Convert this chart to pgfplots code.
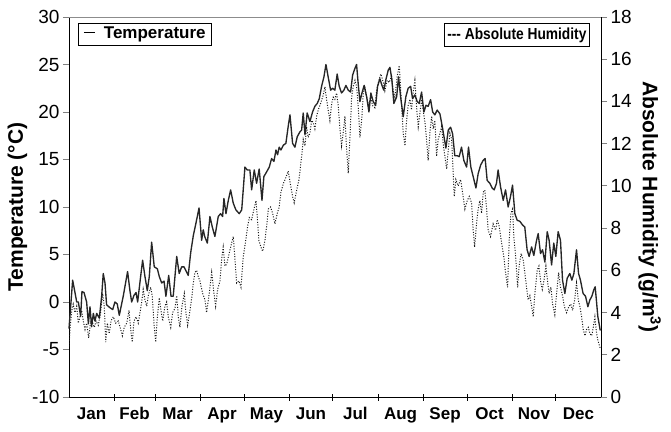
\documentclass[border=0pt]{standalone}
\usepackage{fontspec}
\setmainfont{Liberation Sans}
\usepackage{pgfplots}
\pgfplotsset{compat=1.18}

\begin{document}
\begin{tikzpicture}
\useasboundingbox (-69pt,-34pt) rectangle (602pt,397pt);
\begin{axis}[
  scale only axis, width=532pt, height=380pt,
  xmin=0, xmax=365, ymin=-10, ymax=30,
  axis x line*=bottom, axis y line*=left,
  axis line style={line width=1pt},
  clip=false,
  ytick={-10,-5,...,30},
  xtick={15.5,45,74.5,105,135.5,166,196.5,227.5,258,288.5,319,349.5},
  xticklabels={Jan,Feb,Mar,Apr,May,Jun,Jul,Aug,Sep,Oct,Nov,Dec},
  x tick style={draw=none},
  y tick style={line width=0.8pt},
  tick align=outside, major tick length=6pt,
  xticklabel style={font=\bfseries\fontsize{17}{17}\selectfont, yshift=-1pt},
  yticklabel style={font=\fontsize{19}{19}\selectfont},
  /pgf/number format/assume math mode=true,
  ylabel={Temperature (°C)},
  ylabel style={font=\bfseries\fontsize{21}{21}\selectfont, yshift=-2pt},
]
\addplot[line width=1.35pt, color=black!85, line join=round] table {
0 -2.8
2.5 2.3
4.1 1.0
5.3 0.0
6.4 0.0
8.0 -1.5
8.9 1.1
10.3 1.0
12.1 0.0
13.3 -2.3
14.4 -0.5
15.5 -2.6
16.7 -1.2
17.8 -2.0
19.0 -1.2
20.8 -1.7
22.4 0.6
23.5 3.0
24.7 2.0
25.8 -0.3
28.1 -0.6
30.0 -0.8
31.5 0.0
33.1 -0.2
34.5 -1.4
37.2 0.6
40.2 3.2
41.8 1.2
43.0 0.0
44.6 0.7
46.0 1.0
47.1 0.0
48.7 2.1
50.5 4.4
52.1 2.7
53.7 1.2
55.1 2.7
56.7 6.3
58.5 3.7
60.6 3.5
61.9 2.7
63.6 2.0
65.2 2.2
66.5 0.6
68.4 2.8
70.0 0.6
71.5 0.6
73.9 4.8
75.6 3.0
77.3 3.7
78.9 3.7
80.2 3.3
81.8 2.8
83.5 5.2
85.3 7.0
87.1 8.3
89.2 9.9
91.0 6.5
92.1 7.6
93.1 6.9
94.9 6.2
96.7 9.0
98.3 7.9
100.1 6.9
102.4 9.0
104.0 9.3
105.4 9.0
106.3 10.9
107.7 9.3
109.3 10.7
110.9 11.8
112.7 10.4
114.5 9.7
116.8 9.3
118.5 9.7
120.7 14.2
122.3 13.9
124.1 13.9
125.3 11.8
127.1 13.9
128.7 12.5
130.5 14.0
132.4 10.7
133.7 13.2
135.6 13.7
137.4 14.2
139.0 15.1
140.6 14.8
142.0 16.0
143.1 15.5
144.2 16.3
145.4 16.0
147.0 16.5
148.8 16.7
150.4 18.5
151.6 19.7
153.4 16.7
155.0 16.3
156.6 17.4
158.4 17.9
159.6 18.1
160.7 19.9
161.9 17.6
163.4 19.9
165.3 19.0
167.1 20.0
168.7 20.6
170.3 20.9
171.7 21.4
173.3 22.7
174.9 23.7
176.3 25.0
177.8 23.7
179.5 22.3
180.9 22.5
182.4 22.3
184.0 24.0
185.4 22.7
187.0 22.0
188.6 22.3
190.0 22.8
191.6 22.3
193.2 22.1
194.6 23.9
196.2 24.6
197.3 25.0
198.4 23.0
199.6 21.1
201.0 22.0
202.5 22.8
204.2 21.6
205.8 20.0
207.1 22.0
208.7 21.1
210.4 20.7
211.7 22.7
213.3 23.5
214.7 22.8
216.0 22.3
217.4 23.4
219.0 24.4
220.2 24.7
221.5 23.4
222.9 20.9
224.8 21.6
226.1 23.7
227.5 21.6
229.3 19.5
231.1 21.6
232.7 22.5
234.4 22.7
235.7 21.4
237.3 21.8
238.9 21.1
240.3 20.9
241.9 22.1
243.5 20.0
244.9 20.7
246.4 20.6
248.1 21.3
249.5 20.0
251.0 19.7
252.6 20.2
254.5 19.8
256.3 18.3
258.6 16.2
260.2 18.1
261.8 18.4
263.2 17.7
264.7 15.4
266.3 15.4
267.7 15.3
269.3 16.3
270.9 14.9
272.8 14.2
274.1 16.3
275.7 14.2
277.3 13.2
279.2 12.0
280.7 13.5
282.4 14.4
284.1 14.9
285.5 15.1
286.9 12.8
288.7 12.5
290.3 12.0
291.7 11.8
293.3 12.5
294.4 13.9
296.1 12.1
297.9 10.7
299.5 11.8
301.3 10.0
302.9 11.1
304.3 12.3
305.9 9.3
307.5 8.6
309.3 8.5
311.2 8.1
312.7 7.9
314.3 5.5
315.7 4.8
317.4 5.8
318.9 4.9
320.8 6.5
321.9 7.2
323.5 5.1
324.9 5.5
326.5 4.2
328.1 7.4
329.4 6.5
331.1 3.9
332.6 6.2
334.0 4.8
335.6 7.4
337.2 6.5
338.6 2.3
340.2 0.9
341.8 2.5
343.6 3.0
345.0 2.3
346.4 3.0
348.2 5.5
349.6 3.0
350.9 2.3
352.7 0.9
354.4 0.6
356.0 -0.5
357.3 0.2
358.7 0.6
360.1 1.3
361.0 1.6
362.0 -0.1
362.8 -1.5
364.5 -3.0
};
% month boundaries
\pgfplotsinvokeforeach{31,59,90,120,151,181,212,243,273,304,334}{
  \draw[line width=0.8pt] ([yshift=-3.5pt]axis cs:#1,-10) -- ([yshift=3.5pt]axis cs:#1,-10);
}
\draw[black!45, line width=0.8pt] (rel axis cs:0,1) -- (rel axis cs:1,1);
\node[draw, line width=0.8pt, anchor=north west, inner xsep=6pt, inner ysep=3.5pt,
  font=\bfseries\fontsize{17}{17}\selectfont] at (rel axis cs:0.016,0.984)
  {\rule[0.33em]{11pt}{0.8pt}\hspace{9pt}Temperature};
\node[draw, line width=0.8pt, anchor=north east, inner xsep=3pt, inner ysep=4pt,
  font=\bfseries\fontsize{16}{16}\selectfont] at (rel axis cs:0.979,0.984)
  {\scalebox{0.86}[1]{-{}-{}- Absolute Humidity}};
\end{axis}
\begin{axis}[
  scale only axis, width=532pt, height=380pt,
  xmin=0, xmax=365, ymin=0, ymax=18,
  axis x line=none, axis y line*=right,
  axis line style={line width=1pt},
  ytick={0,2,...,18},
  y tick style={line width=0.8pt},
  tick align=outside, major tick length=6pt,
  yticklabel style={font=\fontsize{19}{19}\selectfont},
  /pgf/number format/assume math mode=true,
  ylabel={Absolute Humidity (g/m\textsuperscript{3})},
  ylabel style={rotate=180, font=\bfseries\fontsize{21}{21}\selectfont},
]
\addplot[line width=1pt, black!90, dash pattern=on 1pt off 1.6pt] table {
0 2.4
0.7 3.2
1.9 4.1
2.9 4.4
4.1 4.0
5.3 4.3
6.4 3.5
7.5 3.8
8.7 4.1
9.8 3.6
11.0 3.2
12.1 3.5
13.5 2.8
14.9 3.6
16.3 3.5
17.4 3.3
18.5 3.6
20.1 3.4
21.7 4.0
23.1 4.9
24.2 4.3
25.2 2.6
26.3 3.5
27.6 3.0
28.8 3.6
30.4 3.8
32.0 3.5
33.8 3.6
35.5 3.2
36.6 2.9
37.9 3.3
39.6 3.5
41.2 4.1
42.5 3.1
43.4 2.6
44.6 3.6
46.0 3.8
47.5 3.5
48.7 4.0
49.9 4.5
50.9 5.1
52.1 4.6
53.3 4.3
54.4 4.8
56.0 5.2
57.1 4.8
58.3 3.5
59.5 2.6
60.6 3.8
61.9 4.7
63.1 4.1
64.3 3.6
65.8 4.3
67.0 4.5
68.1 3.8
69.8 3.3
71.1 4.0
72.7 4.2
73.9 4.8
75.0 3.8
76.1 3.3
77.5 4.3
79.1 4.9
80.2 4.0
81.4 3.4
83.0 4.1
84.2 4.7
85.3 5.4
86.4 5.9
87.6 6.0
88.7 5.7
89.8 5.5
91.7 4.9
93.3 4.6
94.4 4.0
96.2 4.9
97.9 5.9
99.5 4.9
100.6 4.3
102.0 5.1
103.6 5.5
104.7 6.5
105.8 7.1
107.0 6.2
108.2 6.3
109.9 6.8
111.6 7.3
112.7 7.6
113.9 6.5
115.0 5.4
116.6 5.5
118.0 5.2
119.5 6.6
121.2 7.4
122.6 8.1
123.7 8.5
125.3 8.4
126.9 8.9
128.3 9.3
129.2 8.5
130.3 7.4
131.7 7.1
132.9 6.9
134.4 7.4
135.6 8.1
136.7 8.9
138.3 9.0
139.7 8.7
141.3 8.2
142.9 8.7
144.2 9.0
145.4 9.7
147.0 10.1
148.8 10.4
150.4 10.7
152.1 10.0
153.4 9.5
154.5 9.2
156.2 9.8
157.8 10.3
159.6 11.4
160.7 12.2
161.9 11.9
163.0 12.8
164.1 12.3
165.3 12.5
166.5 13.1
167.6 13.0
168.7 12.7
169.9 13.3
171.0 13.6
172.6 13.9
174.4 14.3
175.6 14.7
176.7 14.1
177.8 13.6
179.0 13.1
180.2 13.9
181.3 14.2
182.4 14.1
183.6 14.4
184.7 13.8
185.9 12.7
187.0 11.9
188.1 12.5
189.3 13.3
190.5 11.7
191.6 10.6
192.7 12.2
193.9 14.2
195.0 14.7
196.2 15.0
197.3 14.7
198.4 13.8
199.6 12.3
200.8 13.1
201.9 14.4
203.0 14.7
204.2 14.2
205.6 13.8
206.9 14.2
208.3 13.8
209.9 13.7
211.0 14.5
212.6 15.0
214.0 15.3
215.6 14.9
216.7 14.5
218.3 15.0
219.7 14.9
221.3 15.2
222.4 14.5
223.6 14.2
225.2 15.2
226.6 15.7
228.2 13.8
229.3 12.5
230.5 11.9
231.6 13.1
232.7 13.8
233.9 14.1
235.0 13.6
236.1 14.4
237.3 15.0
238.4 13.8
239.6 12.8
240.7 13.4
241.9 14.1
243.0 13.6
244.2 13.0
245.3 12.2
246.4 11.2
247.6 12.5
248.8 13.3
249.9 12.7
251.0 13.1
252.2 11.4
253.3 12.2
254.5 12.5
255.6 12.8
256.7 12.0
257.9 11.4
259.1 10.8
260.2 11.7
261.3 12.5
262.5 12.2
263.6 10.6
264.3 9.5
265.4 10.3
267.0 10.0
268.7 10.3
270.4 9.5
271.6 8.9
273.2 9.3
274.6 9.5
276.2 9.2
277.3 7.9
278.3 7.1
279.6 8.2
280.7 8.9
281.9 9.3
283.1 8.7
284.2 9.7
285.3 9.8
286.5 8.9
287.6 7.9
289.2 7.6
291.0 8.2
292.7 7.9
293.8 8.4
295.1 8.1
296.8 7.3
298.4 6.6
299.5 5.9
300.9 5.2
302.0 7.4
303.2 8.7
304.3 8.9
305.2 7.6
306.6 6.5
307.8 5.2
308.8 6.2
310.2 6.8
311.6 6.5
312.7 5.9
313.9 5.2
315.0 4.6
316.2 4.8
317.4 4.3
318.5 3.8
319.6 4.9
321.2 6.0
322.4 6.2
323.5 5.5
324.7 5.1
325.8 5.5
327.2 6.2
328.3 5.5
329.4 4.9
330.6 5.2
331.8 4.4
333.3 3.9
334.5 4.9
335.9 5.9
337.2 5.2
338.6 4.8
339.8 4.3
341.4 4.0
343.0 4.3
344.3 4.4
345.5 4.1
346.9 4.6
348.2 5.4
349.4 4.6
350.5 4.3
351.7 3.8
352.8 3.2
354.0 2.9
355.1 3.2
356.3 3.3
357.4 3.0
358.6 2.9
359.7 3.3
360.8 3.8
362.0 3.0
362.8 2.7
364.5 2.3
};
\end{axis}
\end{tikzpicture}
\end{document}
